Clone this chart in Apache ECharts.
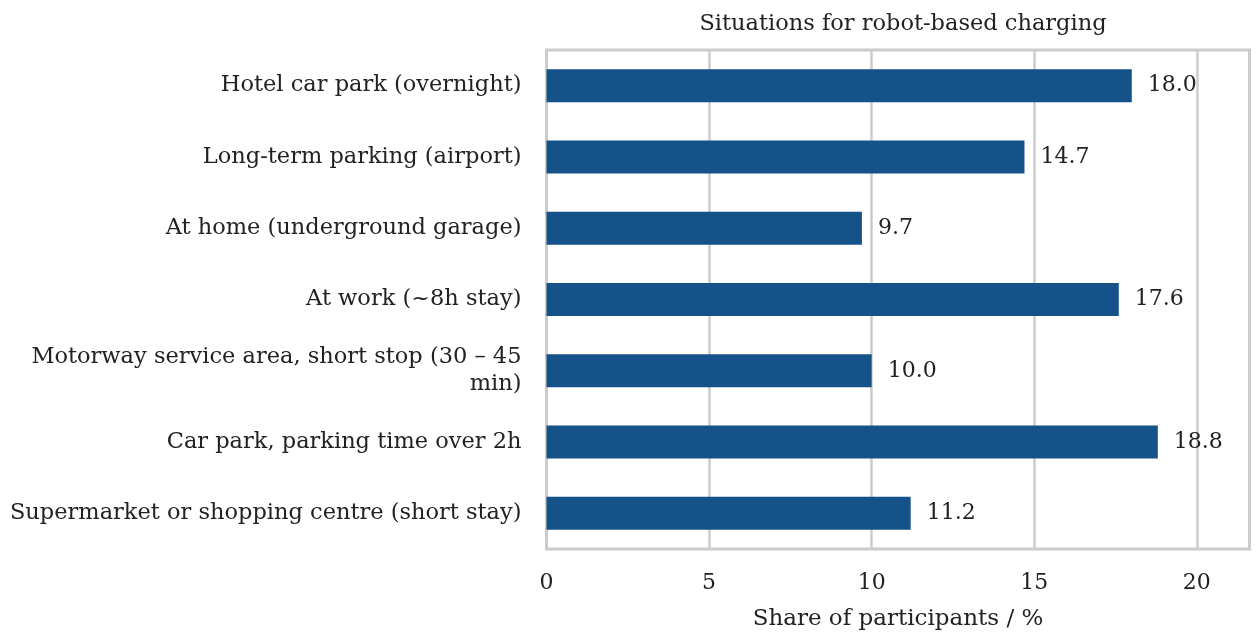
<!DOCTYPE html>
<html>
<head>
<meta charset="utf-8">
<script src="https://cdn.jsdelivr.net/npm/echarts@6/dist/echarts.min.js"></script>
<style>
html,body{margin:0;padding:0;background:#fff;}
#c{width:1260px;height:644px;}
</style>
</head>
<body>
<div id="c"></div>
<script>
const categories = [
  "Hotel car park (overnight)",
  "Long-term parking (airport)",
  "At home (underground garage)",
  "At work (~8h stay)",
  "Motorway service area, short stop (30 – 45 min)",
  "Car park, parking time over 2h",
  "Supermarket or shopping centre (short stay)"
];
const shares = [18.0, 14.7, 9.7, 17.6, 10.0, 18.8, 11.2];
const xTicks = [0, 5, 10, 15, 20];
const chartTitle = "Situations for robot-based charging";
const xTitle = "Share of participants / %";

const FONT = "DejaVu Serif";
const TXT = "#222222";
const chart = echarts.init(document.getElementById('c'), null, {renderer: 'canvas'});
const xMax = Math.max(...shares) * 1.15;
chart.setOption({
  animation: false,
  backgroundColor: '#fff',
  textStyle: {fontFamily: FONT, color: TXT},
  title: {
    text: chartTitle,
    left: 898, top: 8, textAlign: 'center',
    textStyle: {fontFamily: FONT, fontSize: 22.5, fontWeight: 'normal', color: TXT}
  },
  grid: {
    left: 546.5, right: 10.5, top: 50, bottom: 95,
    show: true, borderColor: '#cccccc', borderWidth: 3, backgroundColor: 'transparent'
  },
  xAxis: {
    type: 'value', min: 0, max: xMax, interval: 5,
    axisLine: {show: false}, axisTick: {show: false},
    splitLine: {show: true, lineStyle: {color: '#cccccc', width: 2.5}},
    axisLabel: {
      fontFamily: FONT, fontSize: 22, color: TXT, margin: 23,
      showMaxLabel: false,
      formatter: v => xTicks.includes(v) ? String(v) : ''
    },
    name: xTitle, nameLocation: 'middle', nameGap: 59,
    nameTextStyle: {fontFamily: FONT, fontSize: 23, color: TXT}
  },
  yAxis: {
    type: 'category', data: categories, inverse: true,
    axisLine: {show: false}, axisTick: {show: false}, splitLine: {show: false},
    axisLabel: {
      fontFamily: FONT, fontSize: 22.5, color: TXT, margin: 25, lineHeight: 27,
      formatter: v => v.replace('45 min', '45\nmin')
    }
  },
  series: [{
    type: 'bar', data: shares, barWidth: 33,
    itemStyle: {color: '#16528a'},
    label: {
      show: true, position: 'right', distance: 16,
      fontFamily: FONT, fontSize: 22, color: TXT,
      formatter: p => p.value.toFixed(1)
    }
  }]
});
</script>
</body>
</html>
